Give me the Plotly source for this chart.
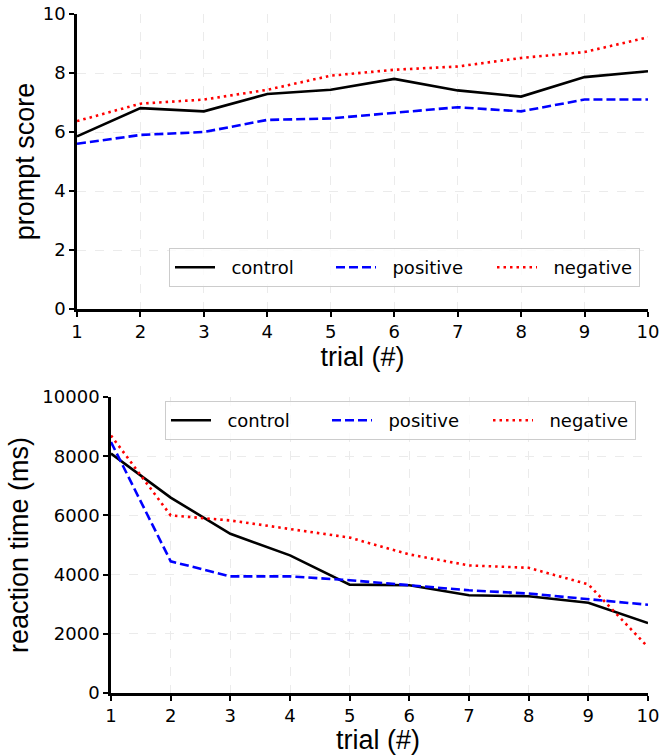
import plotly.graph_objects as go

trials = [1, 2, 3, 4, 5, 6, 7, 8, 9, 10]

score_control = [5.85, 6.81, 6.70, 7.29, 7.43, 7.80, 7.41, 7.20, 7.86, 8.06]
score_positive = [5.60, 5.90, 6.00, 6.41, 6.46, 6.65, 6.84, 6.70, 7.10, 7.10]
score_negative = [6.37, 6.96, 7.10, 7.43, 7.91, 8.11, 8.22, 8.51, 8.71, 9.21]

rt_control = [8090, 6600, 5380, 4650, 3660, 3640, 3300, 3270, 3050, 2360]
rt_positive = [8480, 4450, 3940, 3940, 3810, 3640, 3470, 3360, 3160, 2980]
rt_negative = [8700, 6000, 5830, 5530, 5250, 4680, 4310, 4230, 3670, 1550]

series_names = ["control", "positive", "negative"]
colors = ["#000000", "#0000ff", "#ff0000"]
dashes = ["solid", "9px,4px", "2.5px,4px"]
legend_widths = [106, 106, 92]

W, H = 660, 755
fig = go.Figure()

PAD = "\u00a0\u00a0"
for name, ys, c, d, lw in zip(series_names, [score_control, score_positive, score_negative], colors, dashes, legend_widths):
    fig.add_trace(go.Scatter(x=trials, y=ys, name=PAD + name, mode="lines",
                             line=dict(color=c, width=2.6, dash=d), legendwidth=lw,
                             xaxis="x", yaxis="y", legend="legend"))
for name, ys, c, d, lw in zip(series_names, [rt_control, rt_positive, rt_negative], colors, dashes, legend_widths):
    fig.add_trace(go.Scatter(x=trials, y=ys, name=PAD + name, mode="lines",
                             line=dict(color=c, width=2.6, dash=d), legendwidth=lw,
                             xaxis="x2", yaxis="y2", legend="legend2"))

tickfont = dict(family="DejaVu Sans", size=18, color="black")
titlefont = dict(family="Liberation Sans, Arial", size=27, color="black")

def px(v):
    return v / W

def py(v):
    return (H - v) / H

common_ax = dict(showline=True, linecolor="black", linewidth=2.6,
                 ticks="outside", ticklen=5, tickwidth=1.5, tickcolor="black",
                 tickfont=tickfont, showgrid=True, gridcolor="#ebebeb",
                 gridwidth=0.8, griddash="dash", zeroline=False, automargin=False,
                 mirror=False, tickformat="d")

legend_common = dict(orientation="h", bgcolor="rgba(255,255,255,0.8)",
                     bordercolor="#cccccc", borderwidth=1,
                     font=dict(family="DejaVu Sans", size=18, color="black"),
                     itemwidth=40)

fig.update_layout(
    width=W, height=H,
    margin=dict(l=0, r=0, t=0, b=0),
    paper_bgcolor="white", plot_bgcolor="white",
    xaxis=dict(common_ax, domain=[px(77), px(648)], range=[1, 10], anchor="y",
               tickvals=trials, title=dict(text="trial (#)", font=titlefont, standoff=6)),
    yaxis=dict(common_ax, domain=[py(309), py(14)], range=[0, 10], anchor="x",
               tickvals=[0, 2, 4, 6, 8, 10], title=dict(text="prompt score", font=titlefont, standoff=1)),
    xaxis2=dict(common_ax, domain=[px(111), px(648)], range=[1, 10], anchor="y2",
                tickvals=trials),
    yaxis2=dict(common_ax, domain=[py(693), py(397)], range=[0, 10000], anchor="x2",
                tickvals=[0, 2000, 4000, 6000, 8000, 10000],
                title=dict(text="reaction time (ms)", font=titlefont, standoff=6)),
    legend=dict(legend_common, x=px(640), xanchor="right", y=py(287), yanchor="bottom"),
    legend2=dict(legend_common, x=px(636), xanchor="right", y=py(401), yanchor="top"),
    showlegend=True,
    annotations=[dict(text="trial (#)", font=titlefont, showarrow=False,
                      xref="paper", yref="paper", x=px(378), y=py(740),
                      xanchor="center", yanchor="middle")],
)

fig.write_html("out.html", config={"displayModeBar": False},
               post_script="document.body.style.margin='0';")
